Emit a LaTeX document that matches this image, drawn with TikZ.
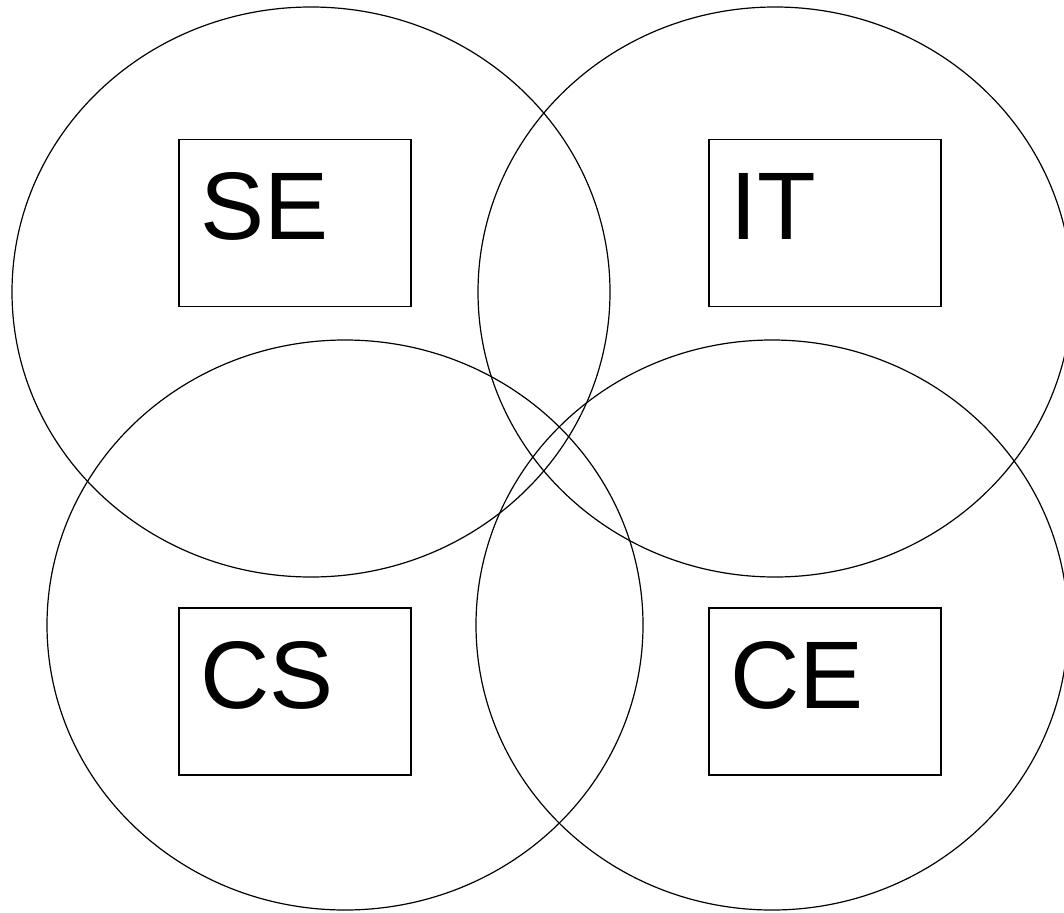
\documentclass[tikz,border=0pt]{standalone}
\usepackage{fontspec}
\setmainfont{Liberation Sans}
\usetikzlibrary{shapes.geometric}
\begin{document}
\begin{tikzpicture}[x=1pt,y=-1pt,
  circ/.style={draw,line width=1.2pt,ellipse,inner sep=0pt},
  labbox/.style={draw,line width=1.2pt,minimum width=232pt,minimum height=167pt,inner sep=0pt},
  lab/.style={anchor=base west,inner sep=0pt,font=\fontsize{96}{96}\selectfont}]
\clip (0,0) rectangle (1064,912);
\fill[white] (0,0) rectangle (1064,912);
\node[circ,minimum width=598pt,minimum height=570pt] (cse) at (311,292) {};
\node[circ,minimum width=594pt,minimum height=570pt] (cit) at (775,292) {};
\node[circ,minimum width=596pt,minimum height=570pt] (ccs) at (345,625) {};
\node[circ,minimum width=592pt,minimum height=570pt] (cce) at (772,625) {};
\node[labbox] (bse) at (295,223) {};
\node[labbox] (bit) at (825,223) {};
\node[labbox] (bcs) at (295,691.5) {};
\node[labbox] (bce) at (825,691.5) {};
\node[lab] (tse) at ([xshift=22pt,yshift=-101pt]bse.north west) {SE};
\node[lab] (tit) at ([xshift=22pt,yshift=-101pt]bit.north west) {IT};
\node[lab] (tcs) at ([xshift=22pt,yshift=-101pt]bcs.north west) {CS};
\node[lab] (tce) at ([xshift=22pt,yshift=-101pt]bce.north west) {CE};
\end{tikzpicture}
\end{document}
